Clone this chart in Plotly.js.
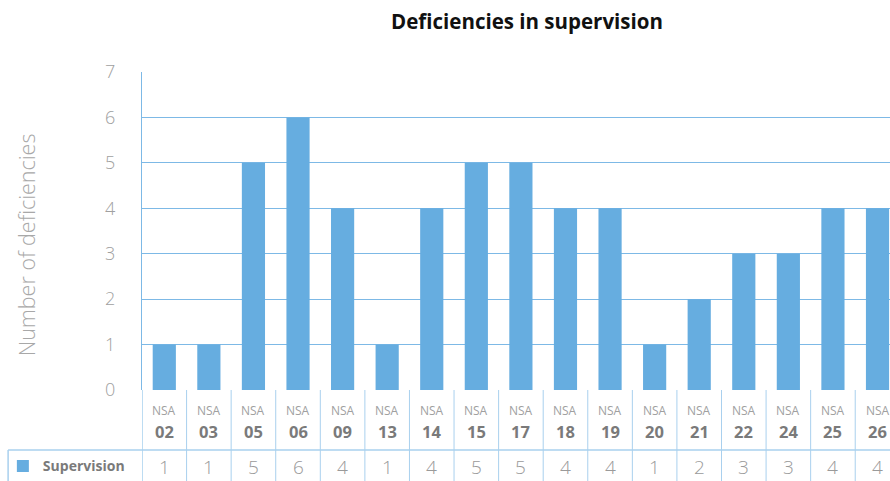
<!DOCTYPE html>
<html>
<head>
<meta charset="utf-8">
<script src="https://cdn.plot.ly/plotly-3.0.1.min.js"></script>
<style>html,body{margin:0;padding:0;background:#fff;}#chart{width:890px;height:481px;}</style>
</head>
<body>
<div id="chart"></div>
<script>
const categories = ["02","03","05","06","09","13","14","15","17","18","19","20","21","22","24","25","26"];
const prefix = "NSA";
const seriesName = "Supervision";
const supervision = [1,1,5,6,4,1,4,5,5,4,4,1,2,3,3,4,4];
const yTicks = [0,1,2,3,4,5,6,7];
const yTitle = "Number of deficiencies";

const blue = "#66ade0";
const lineBlue = "#7db9e6";
const sepBlue = "#a9d0ee";

const idx = categories.map((c,i)=>i);

const trace = {
  type: "bar",
  x: idx,
  y: supervision,
  name: seriesName,
  marker: {color: blue},
  width: 0.52,
  hoverinfo: "skip",
  showlegend: true
};

const annotations = [];
idx.forEach((i)=>{
  annotations.push({xref:"x", yref:"paper", x:i, y:-0.064, text:prefix, showarrow:false,
    font:{family:"Open Sans", size:12, color:"#a0a0a0"}, xanchor:"center", yanchor:"middle"});
  annotations.push({xref:"x", yref:"paper", x:i, y:-0.13, text:"<b>"+categories[i]+"</b>", showarrow:false,
    font:{family:"Open Sans", size:16.5, color:"#7a7a7a"}, xanchor:"center", yanchor:"middle"});
  annotations.push({xref:"x", yref:"paper", x:i, y:-0.243, text:String(supervision[i]), showarrow:false,
    font:{family:"Open Sans", size:19, color:"#9a9a9a", weight:300}, xanchor:"center", yanchor:"middle"});
});
annotations.push({xref:"paper", yref:"paper", x:-0.155, y:0.455, text:yTitle, textangle:-90, showarrow:false,
  xanchor:"center", yanchor:"middle", font:{family:"Open Sans", size:21.5, color:"#a8a8a8", weight:300}});

const shapes = [];
for (let i=0;i<=categories.length;i++){
  shapes.push({type:"line", xref:"x", yref:"paper", x0:i-0.5, x1:i-0.5, y0:0, y1:-0.3,
    line:{color: i===0 ? lineBlue : sepBlue, width:1}});
}
shapes.push({type:"line", xref:"paper", yref:"paper", x0:-0.179, x1:1, y0:-0.189, y1:-0.189,
  line:{color:sepBlue, width:1.5}});
shapes.push({type:"line", xref:"paper", yref:"paper", x0:-0.179, x1:-0.179, y0:-0.189, y1:-0.3,
  line:{color:sepBlue, width:1.5}});

const layout = {
  width: 890, height: 481,
  margin: {l:142, r:0, t:72, b:91, autoexpand:false},
  paper_bgcolor: "#fff", plot_bgcolor: "#fff",
  title: {text:"<b>Deficiencies in supervision</b>", x:527/890, xref:"container", y:1-22/481, yref:"container",
    xanchor:"center", yanchor:"middle", font:{family:"Open Sans", size:20.5, color:"#111"}},
  xaxis: {range:[-0.5, 16.28], showticklabels:false, ticks:"", showgrid:false, zeroline:false, showline:false, fixedrange:true},
  yaxis: {range:[0,7], tickvals:yTicks, ticktext:yTicks.map(String), showgrid:true, gridcolor:lineBlue, gridwidth:1,
    zeroline:false, showline:true, linecolor:lineBlue, linewidth:1, ticks:"", ticklabelstandoff:22,
    tickfont:{family:"Open Sans", size:18, color:"#a0a0a0", weight:300},
    fixedrange:true},
  showlegend: true,
  legend: {x:-0.186, xanchor:"left", y:-0.19, yanchor:"top", orientation:"h",
    font:{family:"Open Sans", size:14, color:"#7a7a7a", weight:"bold"}, bgcolor:"rgba(0,0,0,0)", itemclick:false},
  annotations: annotations,
  shapes: shapes
};

Plotly.newPlot("chart", [trace], layout, {displayModeBar:false, staticPlot:true});
</script>
</body>
</html>
